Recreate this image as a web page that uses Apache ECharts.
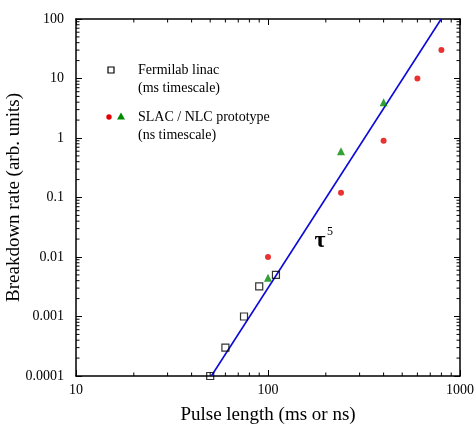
<!DOCTYPE html>
<html><head><meta charset="utf-8">
<script src="https://cdn.jsdelivr.net/npm/echarts@6/dist/echarts.min.js"></script>
<style>html,body{margin:0;padding:0;background:#fff}#c{width:474px;height:424px}</style>
</head><body><div id="c"></div>
<script>
// Data
const fermilabX = [50, 60, 75, 90, 110];
const fermilabY = [0.0001, 0.0003, 0.001, 0.0032, 0.005];
const slacDotX = [100, 240, 400, 600, 800];
const slacDotY = [0.01, 0.12, 0.9, 10, 30];
const slacTriX = [100, 240, 400];
const slacTriY = [0.0045, 0.6, 4];
const fitX = [50.7, 798];
const fitY = [0.0001, 100];
const xTickLabels = {1: '10', 2: '100', 3: '1000'};
const yTickLabels = {'-4': '0.0001', '-3': '0.001', '-2': '0.01', '-1': '0.1', '0': '1', '1': '10', '2': '100'};

const zip = (a, b) => a.map((v, i) => [v, b[i]]);
const xMinor = [], yMinor = [];
[10, 100].forEach(d => { for (let k = 2; k <= 9; k++) xMinor.push([k * d, 1]); });
[1e-4, 1e-3, 1e-2, 1e-1, 1, 10].forEach(d => { for (let k = 2; k <= 9; k++) yMinor.push([10, +(k * d).toPrecision(3)]); });

const FONT = '"Liberation Serif", "DejaVu Serif", serif';
const axisLine = {show: true, lineStyle: {color: '#000', width: 1.5}};
const logX = (extra) => Object.assign({type: 'log', logBase: 10, min: 10, max: 1000, splitLine: {show: false},
  axisLine: axisLine, axisTick: {show: true, inside: true, length: 6, lineStyle: {color: '#000', width: 1}}}, extra);
const logY = (extra) => Object.assign({type: 'log', logBase: 10, min: 0.0001, max: 100, splitNumber: 6, splitLine: {show: false},
  axisLine: axisLine, axisTick: {show: true, inside: true, length: 6, lineStyle: {color: '#000', width: 1}}}, extra);

function minorTicks(isX) {
  return function (params, api) {
    const cs = params.coordSys;
    const L = 3.5;
    if (isX) {
      const x = api.coord([api.value(0), 1])[0];
      const b = cs.y + cs.height, t = cs.y;
      return {type: 'group', children: [
        {type: 'line', shape: {x1: x, y1: b, x2: x, y2: b - L}, style: {stroke: '#000', lineWidth: 1}},
        {type: 'line', shape: {x1: x, y1: t, x2: x, y2: t + L}, style: {stroke: '#000', lineWidth: 1}}
      ]};
    } else {
      const y = api.coord([10, api.value(1)])[1];
      const l = cs.x, r = cs.x + cs.width;
      return {type: 'group', children: [
        {type: 'line', shape: {x1: l, y1: y, x2: l + L, y2: y}, style: {stroke: '#000', lineWidth: 1}},
        {type: 'line', shape: {x1: r, y1: y, x2: r - L, y2: y}, style: {stroke: '#000', lineWidth: 1}}
      ]};
    }
  };
}

const chart = echarts.init(document.getElementById('c'), null, {renderer: 'canvas'});
chart.setOption({
  animation: false,
  backgroundColor: '#fff',
  grid: {left: 76, right: 14, top: 19, bottom: 48, containLabel: false, outerBoundsMode: 'none'},
  xAxis: [
    logX({position: 'bottom', name: 'Pulse length (ms or ns)', nameLocation: 'middle', nameGap: 30, nameMoveOverlap: false,
      nameTextStyle: {fontFamily: FONT, fontSize: 19, color: '#000'},
      axisLabel: {show: true, fontFamily: FONT, fontSize: 14, color: '#000', margin: 7,
        formatter: v => xTickLabels[Math.round(Math.log10(v))] || ''}}),
    logX({position: 'top', axisLabel: {show: false}})
  ],
  yAxis: [
    logY({position: 'left', name: 'Breakdown rate (arb. units)', nameLocation: 'middle', nameGap: 52, nameMoveOverlap: false,
      nameTextStyle: {fontFamily: FONT, fontSize: 19, color: '#000'},
      axisLabel: {show: true, fontFamily: FONT, fontSize: 14, color: '#000', margin: 12,
        formatter: v => yTickLabels[String(Math.round(Math.log10(v)))] || ''}}),
    logY({position: 'right', axisLabel: {show: false}})
  ],
  series: [
    {type: 'custom', xAxisIndex: 0, yAxisIndex: 0, renderItem: minorTicks(true), data: xMinor, clip: false, silent: true, z: 1},
    {type: 'custom', xAxisIndex: 0, yAxisIndex: 0, renderItem: minorTicks(false), data: yMinor, clip: false, silent: true, z: 1},
    {type: 'line', data: zip(fitX, fitY), symbol: 'none', lineStyle: {color: '#0a0ad8', width: 1.6}, z: 2},
    {type: 'scatter', data: zip(fermilabX, fermilabY), symbol: 'rect', symbolSize: 7,
      itemStyle: {color: 'rgba(255,255,255,0)', borderColor: '#000', borderWidth: 1.2}, z: 3},
    {type: 'scatter', data: zip(slacDotX, slacDotY), symbol: 'circle', symbolSize: 6, itemStyle: {color: '#e30000'}, z: 3},
    {type: 'scatter', data: zip(slacTriX, slacTriY), symbol: 'triangle', symbolSize: 8, itemStyle: {color: '#008a00'}, z: 3}
  ],
  graphic: [
    {type: 'rect', shape: {x: 108, y: 67, width: 6, height: 6}, style: {fill: '#fff', stroke: '#000', lineWidth: 1.2}},
    {type: 'text', x: 138, y: 70, style: {text: 'Fermilab linac', font: '14px ' + FONT, fill: '#000', verticalAlign: 'middle'}},
    {type: 'text', x: 138, y: 88, style: {text: '(ms timescale)', font: '14px ' + FONT, fill: '#000', verticalAlign: 'middle'}},
    {type: 'circle', shape: {cx: 109, cy: 117, r: 2.7}, style: {fill: '#e30000'}},
    {type: 'polygon', shape: {points: [[121, 112.5], [125, 119.5], [117, 119.5]]}, style: {fill: '#008a00'}},
    {type: 'text', x: 138, y: 117, style: {text: 'SLAC / NLC prototype', font: '14px ' + FONT, fill: '#000', verticalAlign: 'middle'}},
    {type: 'text', x: 138, y: 135, style: {text: '(ns timescale)', font: '14px ' + FONT, fill: '#000', verticalAlign: 'middle'}},
    {type: 'text', x: 320, y: 241, style: {text: 'τ', font: 'bold 24px ' + FONT, fill: '#000', align: 'center', verticalAlign: 'middle'}},
    {type: 'text', x: 330, y: 232, style: {text: '5', font: '12px ' + FONT, fill: '#000', align: 'center', verticalAlign: 'middle'}}
  ]
});
</script></body></html>
